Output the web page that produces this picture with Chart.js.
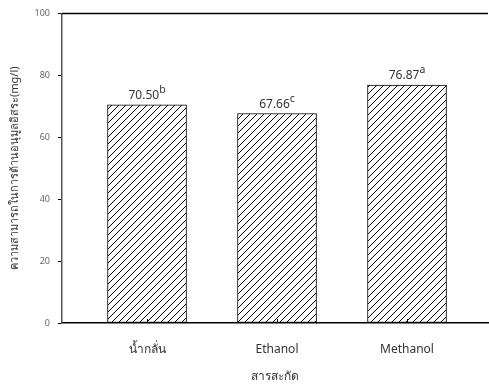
<!DOCTYPE html>
<html>
<head>
<meta charset="utf-8">
<script src="https://cdn.jsdelivr.net/npm/chart.js@4"></script>
<style>
  html, body { margin: 0; padding: 0; background: #fff; }
  #wrap { width: 489px; height: 388px; }
</style>
</head>
<body>
<div id="wrap"><canvas id="myChart"></canvas></div>
<script>
// datos
const categorias = ['น้ำกลั่น', 'Ethanol', 'Methanol'];
const valores = [70.50, 67.66, 76.87];
const letras = ['b', 'c', 'a'];
const ticksY = [0, 20, 40, 60, 80, 100];

const fuente = "'Noto Sans', 'DejaVu Sans', sans-serif";

// patron de rayas diagonales
function rayado() {
    const c = document.createElement('canvas');
    c.width = 7; c.height = 7;
    const g = c.getContext('2d');
    g.fillStyle = '#fff';
    g.fillRect(0, 0, 7, 7);
    g.strokeStyle = '#000';
    g.lineWidth = 1;
    g.beginPath();
    g.moveTo(-1, 8); g.lineTo(8, -1);
    g.moveTo(-1, 1); g.lineTo(1, -1);
    g.moveTo(6, 8); g.lineTo(8, 6);
    g.stroke();
    return g.createPattern(c, 'repeat');
}

// linea superior, ticks hacia adentro y etiquetas con letra
const extras = {
    id: 'extras',
    afterDatasetsDraw(chart) {
        const ctx = chart.ctx;
        const a = chart.chartArea;
        const x = chart.scales.x;
        ctx.save();
        ctx.strokeStyle = '#000';
        ctx.lineWidth = 1.5;
        ctx.beginPath();
        ctx.moveTo(a.left, a.top);
        ctx.lineTo(a.right, a.top);
        ctx.stroke();
        ctx.lineWidth = 1;
        ctx.beginPath();
        categorias.forEach((c, i) => {
            const px = Math.round(x.getPixelForValue(i)) + 0.5;
            ctx.moveTo(px, a.bottom);
            ctx.lineTo(px, a.bottom - 4);
        });
        ctx.stroke();

        const meta = chart.getDatasetMeta(0);
        meta.data.forEach((bar, i) => {
            const txt = valores[i].toFixed(2);
            ctx.font = '12px ' + fuente;
            const w1 = ctx.measureText(txt).width;
            ctx.font = '10.5px ' + fuente;
            const w2 = ctx.measureText(letras[i]).width;
            const x0 = bar.x - (w1 + w2) / 2;
            ctx.fillStyle = '#333';
            ctx.textBaseline = 'alphabetic';
            ctx.textAlign = 'left';
            ctx.font = '12px ' + fuente;
            ctx.fillText(txt, x0, bar.y - 6);
            ctx.font = '10.5px ' + fuente;
            ctx.fillText(letras[i], x0 + w1, bar.y - 12);
        });
        ctx.restore();
    }
};

const ctx = document.getElementById('myChart').getContext('2d');
const myChart = new Chart(ctx, {
    type: 'bar',
    data: {
        datasets: [{
            data: valores.map((v, i) => ({ x: i, y: v })),
            backgroundColor: rayado(),
            borderColor: '#000',
            borderWidth: 1,
            borderSkipped: false,
            barThickness: 79
        }]
    },
    options: {
        responsive: true,
        maintainAspectRatio: false,
        animation: false,
        layout: { padding: { top: 13, right: 1, left: 0, bottom: 0 } },
        scales: {
            x: {
                type: 'linear',
                offset: false,
                min: -0.654,
                max: 2.623,
                afterBuildTicks: s => { s.ticks = categorias.map((c, i) => ({ value: i })); },
                afterFit: s => { s.height = 65; },
                grid: { display: false, drawTicks: false },
                border: { color: '#000', width: 1.5 },
                ticks: {
                    padding: 19,
                    color: '#333',
                    font: { family: fuente, size: 12 },
                    callback: v => categorias[v]
                },
                title: {
                    display: true,
                    text: 'สารสะกัด',
                    color: '#333',
                    padding: { top: 16 },
                    font: { family: fuente, size: 12 }
                }
            },
            y: {
                min: 0,
                max: 100,
                afterBuildTicks: s => { s.ticks = ticksY.map(v => ({ value: v })); },
                afterFit: s => { s.width = 62; },
                grid: { drawOnChartArea: false, tickLength: 4, color: '#000' },
                border: { color: '#555', width: 1.5 },
                ticks: {
                    padding: 8,
                    color: '#666',
                    font: { family: fuente, size: 9 }
                },
                title: {
                    display: true,
                    text: 'ความสามารถในการต้านอนุมูลอิสระ(mg/l)',
                    color: '#333',
                    padding: { top: 8, bottom: 6 },
                    font: { family: fuente, size: 11 }
                }
            }
        },
        plugins: {
            legend: { display: false },
            tooltip: { enabled: false }
        }
    },
    plugins: [extras]
});
</script>
</body>
</html>
